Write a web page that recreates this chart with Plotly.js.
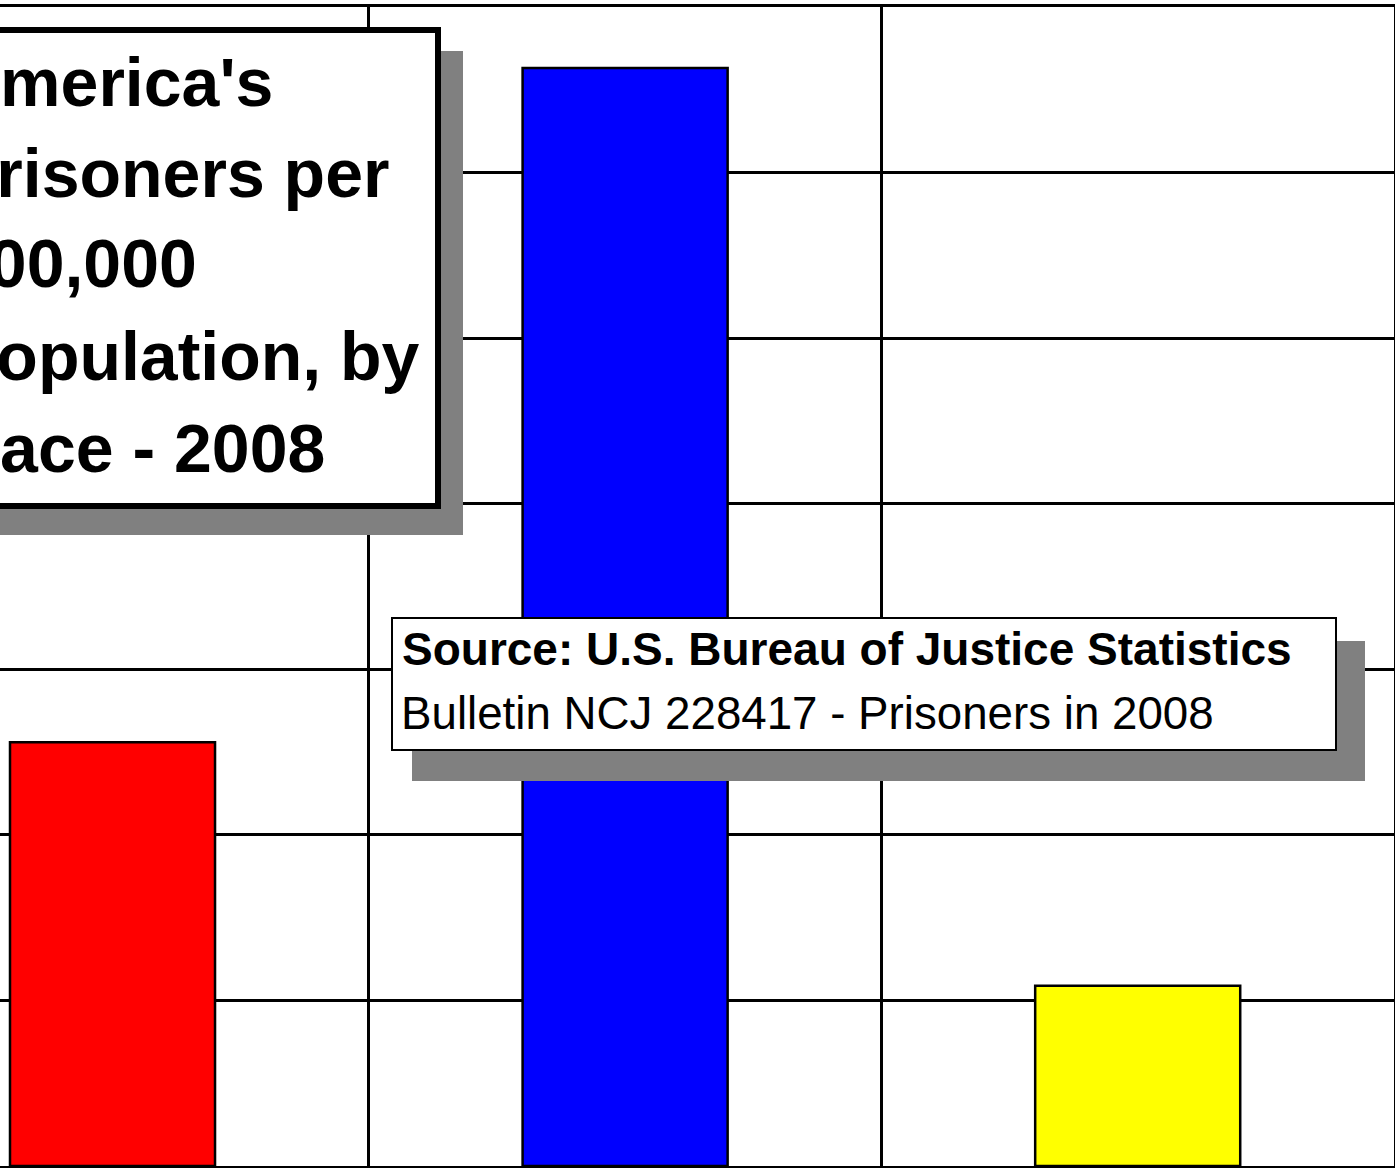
<!DOCTYPE html>
<html>
<head>
<meta charset="utf-8">
<script src="https://cdn.plot.ly/plotly-3.0.1.min.js"></script>
<style>
  html, body { margin: 0; padding: 0; background: #ffffff; overflow: hidden; }
  #chart { width: 1395px; height: 1168px; }
</style>
</head>
<body>
<div id="chart"></div>
<script>
// ---- data ----
var categories = ["Hispanic", "Black", "White"];
var prisonersPer100k = [640, 1658, 272];
var barColors = ["#ff0000", "#0000ff", "#ffff00"];

var titleLines = ["America's", "Prisoners per", "100,000", "Population, by", "Race - 2008"];
var sourceLine1 = "Source: U.S. Bureau of Justice Statistics";
var sourceLine2 = "Bulletin NCJ 228417 - Prisoners in 2008";

// ---- layout helpers (pixel -> paper) ----
var W = 1395, H = 1168;
var M = {l: 0, r: 1, t: 7, b: 2};
var PW = W - M.l - M.r, PH = H - M.t - M.b;
function px(x) { return (x - M.l) / PW; }
function py(y) { return (H - M.b - y) / PH; }

var FONT = "Liberation Sans, Arial, Helvetica, sans-serif";

var trace = {
  type: "bar",
  x: categories,
  y: prisonersPer100k,
  width: 0.4,
  marker: { color: barColors, line: { color: "#000000", width: 2.5 } },
  hoverinfo: "none"
};

var shapes = [
  // title box shadow + box
  { type: "rect", xref: "paper", yref: "paper", layer: "above",
    x0: px(-100), x1: px(463), y0: py(535), y1: py(51),
    fillcolor: "#808080", line: { width: 0 } },
  { type: "rect", xref: "paper", yref: "paper", layer: "above",
    x0: px(-100), x1: px(438), y0: py(506), y1: py(30),
    fillcolor: "#ffffff", line: { color: "#000000", width: 6 } },
  // source box shadow + box
  { type: "rect", xref: "paper", yref: "paper", layer: "above",
    x0: px(412), x1: px(1365), y0: py(781), y1: py(641),
    fillcolor: "#808080", line: { width: 0 } },
  { type: "rect", xref: "paper", yref: "paper", layer: "above",
    x0: px(392), x1: px(1336), y0: py(750), y1: py(618),
    fillcolor: "#ffffff", line: { color: "#000000", width: 2 } }
];

var annotations = [];
var titleBaselines = [106, 197, 287, 380, 472];
var tFS = 68;
titleLines.forEach(function (t, i) {
  annotations.push({
    xref: "paper", yref: "paper", showarrow: false,
    x: px(-51), y: py(titleBaselines[i] - 0.3465 * tFS),
    xanchor: "left", yanchor: "middle", align: "left",
    text: t,
    font: { family: FONT, size: tFS, color: "#000000", weight: 700 }
  });
});
annotations.push({
  xref: "paper", yref: "paper", showarrow: false,
  x: px(400), y: py(665 - 0.3465 * 46),
  xanchor: "left", yanchor: "middle", align: "left",
  text: sourceLine1,
  font: { family: FONT, size: 46, color: "#000000", weight: 700 }
});
annotations.push({
  xref: "paper", yref: "paper", showarrow: false,
  x: px(399), y: py(729 - 0.3465 * 45.7),
  xanchor: "left", yanchor: "middle", align: "left",
  text: sourceLine2,
  font: { family: FONT, size: 45.7, color: "#000000", weight: 400 }
});

var layout = {
  width: W, height: H,
  margin: M,
  paper_bgcolor: "#ffffff",
  plot_bgcolor: "#ffffff",
  showlegend: false,
  bargap: 0.6,
  xaxis: {
    type: "category",
    range: [-0.2195, 2.5],
    tickson: "boundaries",
    showgrid: true, gridcolor: "#000000", gridwidth: 3,
    showticklabels: false, ticks: "",
    showline: true, linecolor: "#000000", linewidth: 3, mirror: true,
    zeroline: false, fixedrange: true
  },
  yaxis: {
    range: [0, 1750], tick0: 0, dtick: 250,
    showgrid: true, gridcolor: "#000000", gridwidth: 3,
    showticklabels: false, ticks: "",
    showline: true, side: "right", linecolor: "#000000", linewidth: 3,
    zeroline: false, fixedrange: true
  },
  shapes: shapes,
  annotations: annotations
};

Plotly.newPlot("chart", [trace], layout, { displayModeBar: false, staticPlot: true });
</script>
</body>
</html>
